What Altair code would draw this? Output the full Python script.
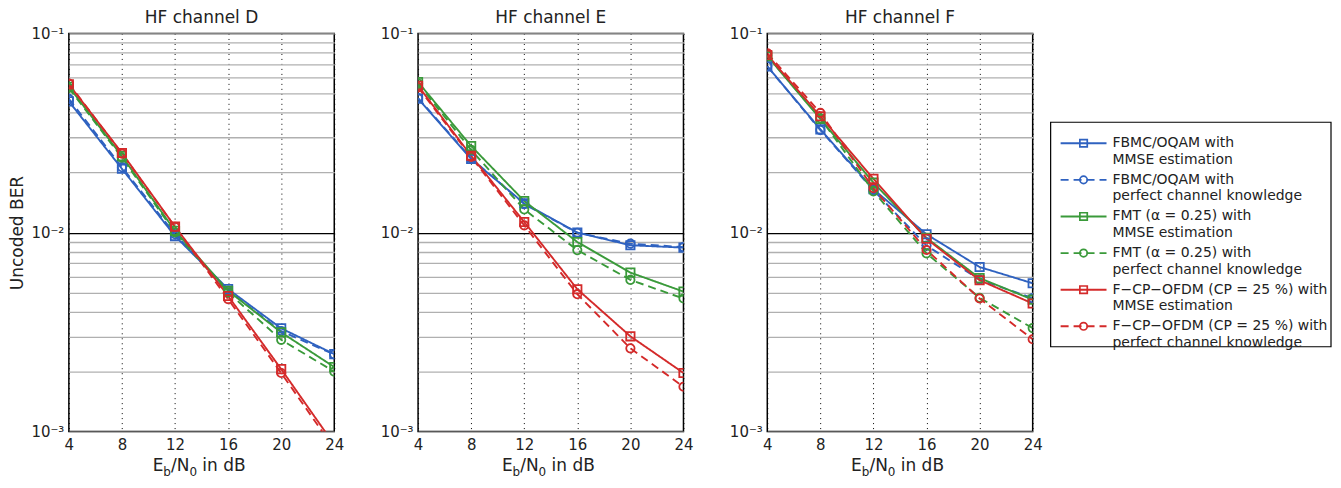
import altair as alt
import pandas as pd

FONT = "DejaVu Sans"

SNR = [4, 8, 12, 16, 20, 24]
CHANNELS = ["D", "E", "F"]

SERIES = [
    "FBMC/OQAM with\nMMSE estimation",
    "FBMC/OQAM with\nperfect channel knowledge",
    "FMT (α = 0.25) with\nMMSE estimation",
    "FMT (α = 0.25) with\nperfect channel knowledge",
    "F−CP−OFDM (CP = 25 %) with\nMMSE estimation",
    "F−CP−OFDM (CP = 25 %) with\nperfect channel knowledge",
]
COLORS = ["#2f62c0", "#2f62c0", "#3a9a3a", "#3a9a3a", "#d42a2a", "#d42a2a"]
SHAPES = ["square", "circle", "square", "circle", "square", "circle"]
DASH_PLOT = [[1, 0], [8, 5], [1, 0], [8, 5], [1, 0], [8, 5]]
DASH_LEGEND = [[1, 0], [9, 28], [1, 0], [9, 28], [1, 0], [9, 28]]

# channel D
D_FBMC_MMSE = [0.0456, 0.0209, 0.0096, 0.0052, 0.0033, 0.00245]
D_FBMC_PERF = [0.0469, 0.0213, 0.0098, 0.0051, 0.0032, 0.00244]
D_FMT_MMSE = [0.0540, 0.0242, 0.0102, 0.0051, 0.00315, 0.00211]
D_FMT_PERF = [0.0532, 0.0238, 0.0100, 0.0050, 0.00289, 0.0020]
D_FCP_MMSE = [0.0555, 0.0251, 0.0107, 0.0048, 0.00206, 0.00086]
D_FCP_PERF = [0.0560, 0.0249, 0.01067, 0.00463, 0.00197, 0.00082]
# channel E
E_FBMC_MMSE = [0.0470, 0.0234, 0.0140, 0.0100, 0.00863, 0.0084]
E_FBMC_PERF = [0.0474, 0.0236, 0.0139, 0.00997, 0.00879, 0.00845]
E_FMT_MMSE = [0.0570, 0.0272, 0.0144, 0.00896, 0.00629, 0.00505]
E_FMT_PERF = [0.0560, 0.0260, 0.01306, 0.00816, 0.00578, 0.00466]
E_FCP_MMSE = [0.0546, 0.0243, 0.0113, 0.00519, 0.00301, 0.00197]
E_FCP_PERF = [0.0536, 0.0240, 0.01087, 0.0049, 0.00262, 0.00168]
# channel F
F_FBMC_MMSE = [0.0684, 0.0330, 0.0165, 0.0098, 0.00671, 0.00556]
F_FBMC_PERF = [0.0684, 0.0327, 0.0163, 0.0086, 0.0058, 0.00468]
F_FMT_MMSE = [0.0770, 0.0372, 0.0178, 0.0094, 0.0059, 0.0046]
F_FMT_PERF = [0.0775, 0.0375, 0.0161, 0.00786, 0.0047, 0.00331]
F_FCP_MMSE = [0.0780, 0.0384, 0.0186, 0.0093, 0.00576, 0.0044]
F_FCP_PERF = [0.0796, 0.0399, 0.0167, 0.00817, 0.00466, 0.00291]

VALUES = {
    "D": [D_FBMC_MMSE, D_FBMC_PERF, D_FMT_MMSE, D_FMT_PERF, D_FCP_MMSE, D_FCP_PERF],
    "E": [E_FBMC_MMSE, E_FBMC_PERF, E_FMT_MMSE, E_FMT_PERF, E_FCP_MMSE, E_FCP_PERF],
    "F": [F_FBMC_MMSE, F_FBMC_PERF, F_FMT_MMSE, F_FMT_PERF, F_FCP_MMSE, F_FCP_PERF],
}

Y_GRID = [0.001, 0.002, 0.003, 0.004, 0.005, 0.006, 0.007, 0.008, 0.009,
          0.01, 0.02, 0.03, 0.04, 0.05, 0.06, 0.07, 0.08, 0.09, 0.1]

rows = []
for ch in CHANNELS:
    for i, s in enumerate(SERIES):
        for x, v in zip(SNR, VALUES[ch][i]):
            rows.append({"channel": ch, "series": s, "idx": i, "snr": x, "ber": v})
df = pd.DataFrame(rows)

W, H = 266, 399

color_enc = alt.Color("series:N", scale=alt.Scale(domain=SERIES, range=COLORS), legend=None)
shape_enc = alt.Shape("series:N", scale=alt.Scale(domain=SERIES, range=SHAPES), legend=None)
dash_enc = alt.StrokeDash("series:N", scale=alt.Scale(domain=SERIES, range=DASH_PLOT), legend=None)

one = pd.DataFrame({"k": [0]})


def xtitle_layers():
    base_y = H + 40
    pieces = [("E", 17, 84.0, 0), ("b", 12, 94.7, 5), ("/N", 17, 102.4, 0),
              ("0", 12, 120.8, 5), ("in dB", 17, 133.8, 0)]
    out = []
    for txt, fs, xp, dy in pieces:
        out.append(
            alt.Chart(one).mark_text(text=txt, fontSize=fs, font=FONT, color="#222",
                                     align="left", baseline="alphabetic")
            .encode(x=alt.value(xp), y=alt.value(base_y + dy))
        )
    return out


def panel(ch, first):
    d = df[df.channel == ch]
    yaxis_kwargs = dict(
        values=Y_GRID,
        labelExpr="datum.value == 0.1 ? '10⁻¹' : datum.value == 0.01 ? '10⁻²' : datum.value == 0.001 ? '10⁻³' : ''",
        grid=True,
        gridColor={"condition": {"test": "datum.value == 0.01", "value": "#000000"}, "value": "#b0b0b0"},
        gridWidth=1.3,
        ticks=False,
        domain=False,
        labelFontSize=15,
        labelPadding=5,
        labelColor="#222",
        labelFont=FONT,
        titleFontSize=17,
        titleFontWeight="normal",
        titleFont=FONT,
        titleColor="#222",
        titlePadding=4,
    )
    if first:
        yaxis_kwargs["title"] = "Uncoded BER"
    else:
        yaxis_kwargs["title"] = None
    base = alt.Chart(d).encode(
        x=alt.X("snr:Q", scale=alt.Scale(domain=[4, 24], nice=False, zero=False),
                axis=alt.Axis(values=SNR, title=None, grid=True, gridDash=[1, 4],
                              gridColor="#000000", gridWidth=1, ticks=False, domain=False,
                              labelFlush=False, labelFontSize=15, labelPadding=6,
                              labelColor="#222", labelFont=FONT)),
        y=alt.Y("ber:Q", scale=alt.Scale(type="log", domain=[0.001, 0.1], nice=False),
                axis=alt.Axis(**yaxis_kwargs)),
    )
    lines = base.mark_line(clip=True, strokeWidth=1.9).encode(color=color_enc, strokeDash=dash_enc)
    pts = base.mark_point(clip=True, filled=False, size=70, strokeWidth=1.8, opacity=1).encode(
        color=color_enc, shape=shape_enc)
    return alt.layer(lines, pts, *xtitle_layers()).properties(
        width=W, height=H, title=f"HF channel {ch}")


leg_df = pd.DataFrame({"series": SERIES, "idx": list(range(6))})
leg_y = alt.Y("idx:Q", scale=alt.Scale(domain=[0, 5], range=[110, 293.5]), axis=None)
leg_color = alt.Color("series:N", scale=alt.Scale(domain=SERIES, range=COLORS), legend=None)
leg_shape = alt.Shape("series:N", scale=alt.Scale(domain=SERIES, range=SHAPES), legend=None)
leg_dash = alt.StrokeDash("series:N", scale=alt.Scale(domain=SERIES, range=DASH_LEGEND), legend=None)

box = alt.Chart(one).mark_rect(fill="white", stroke="black", strokeWidth=1.2).encode(
    x=alt.value(0), x2=alt.value(281), y=alt.value(89), y2=alt.value(314))
leg_base = alt.Chart(leg_df).encode(y=leg_y)
leg_rules = leg_base.mark_rule(strokeWidth=1.9).encode(
    x=alt.value(10), x2=alt.value(56), color=leg_color, strokeDash=leg_dash)
leg_pts = leg_base.mark_point(filled=False, size=55, strokeWidth=1.7, opacity=1).encode(
    x=alt.value(33), color=leg_color, shape=leg_shape)
leg_text = leg_base.mark_text(align="left", baseline="middle", lineBreak="\n", lineHeight=16.5,
                              fontSize=14, font=FONT, color="#222").encode(
    x=alt.value(62), text="series:N")
legend = alt.layer(box, leg_rules, leg_pts, leg_text).properties(
    width=281, height=H, title=" ", view=alt.ViewBackground(stroke="transparent"))

panels = alt.hconcat(panel("D", True), panel("E", False), panel("F", False), spacing=34)
chart = alt.hconcat(panels, legend, spacing=5).properties(
    padding={"left": 0, "top": 0, "right": 0, "bottom": 0}
).configure_title(
    fontSize=17, fontWeight="normal", font=FONT, color="#222", offset=-1,
    anchor="middle", frame="group"
).configure_view(stroke="black", strokeWidth=1.5)

chart.save("out.html", embed_options={"renderer": "svg", "actions": False})
